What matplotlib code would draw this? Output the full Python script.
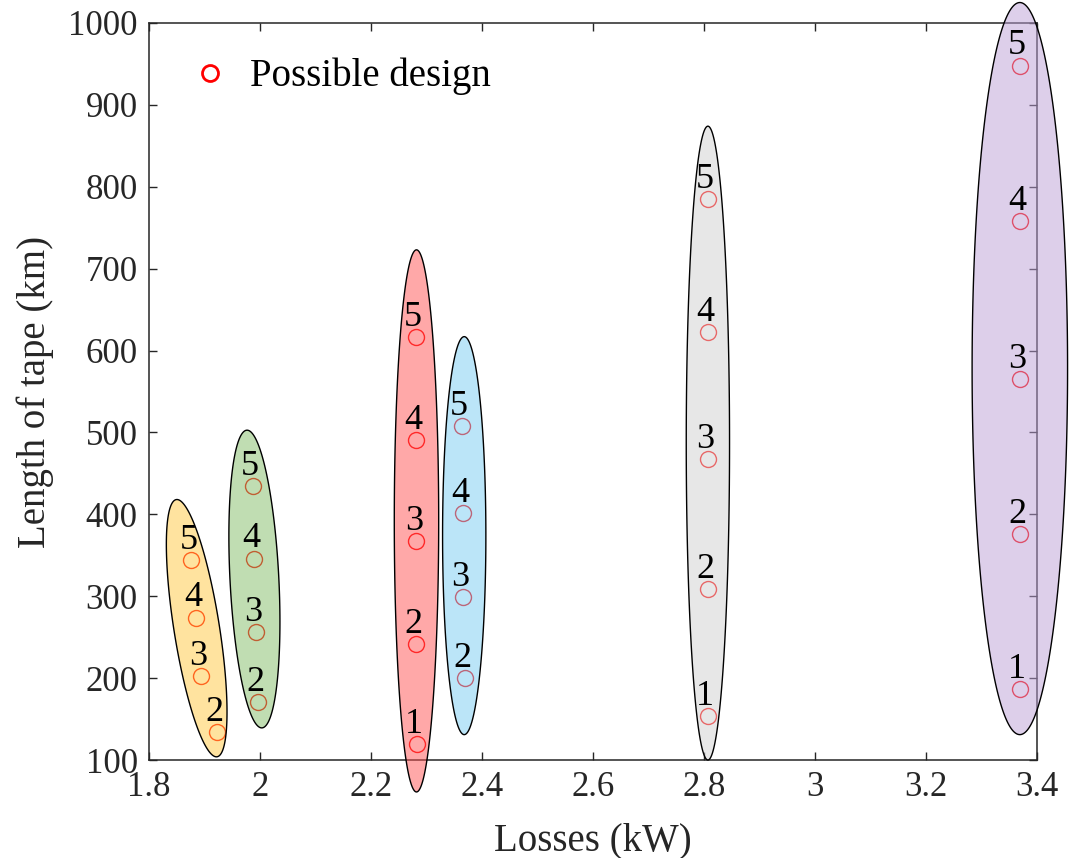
import numpy as np
import matplotlib
matplotlib.use('Agg')
import matplotlib.pyplot as plt
from matplotlib.ticker import FormatStrFormatter

plt.rcParams['font.family'] = ['Liberation Serif', 'DejaVu Serif']

# design groups: losses (kW), tape length (km), design index
yellow_x = [1.876, 1.885, 1.894, 1.923]
yellow_y = [344, 274, 203, 134]
yellow_n = [5, 4, 3, 2]

green_x = [1.987, 1.989, 1.993, 1.996]
green_y = [435, 346, 256, 171]
green_n = [5, 4, 3, 2]

red_x = [2.281, 2.281, 2.282, 2.282, 2.283]
red_y = [617, 491, 367, 242, 120]
red_n = [5, 4, 3, 2, 1]

blue_x = [2.364, 2.366, 2.366, 2.369]
blue_y = [508, 402, 299, 200]
blue_n = [5, 4, 3, 2]

gray_x = [2.807, 2.807, 2.807, 2.807, 2.807]
gray_y = [785, 623, 467, 309, 154]
gray_n = [5, 4, 3, 2, 1]

purple_x = [3.369, 3.369, 3.369, 3.369, 3.369]
purple_y = [948, 758, 565, 376, 187]
purple_n = [5, 4, 3, 2, 1]

xticks = [1.8, 2, 2.2, 2.4, 2.6, 2.8, 3, 3.2, 3.4]
yticks = [100, 200, 300, 400, 500, 600, 700, 800, 900, 1000]

groups = [
    (yellow_x, yellow_y, yellow_n),
    (green_x, green_y, green_n),
    (red_x, red_y, red_n),
    (blue_x, blue_y, blue_n),
    (gray_x, gray_y, gray_n),
    (purple_x, purple_y, purple_n),
]

# enclosing ellipses: centre (kW, km), semi-major (km), semi-minor (kW), tilt (deg), colour
ellipses = [
    (1.886, 261, 159, 0.041, 9.0, (1.0, 0.79, 0.25)),
    (1.990, 321, 182, 0.044, 2.9, (0.51, 0.74, 0.40)),
    (2.282, 392, 331, 0.040, 0.0, (1.0, 0.32, 0.32)),
    (2.368, 374, 243, 0.039, 0.0, (0.47, 0.80, 0.95)),
    (2.807, 487, 387, 0.039, 0.0, (0.82, 0.82, 0.82)),
    (3.369, 578, 447, 0.086, 0.0, (0.74, 0.63, 0.84)),
]

fig = plt.figure(figsize=(10.77, 8.58), dpi=100)
ax = fig.add_axes([0.1383, 0.1142, 0.8246, 0.859])
ax.set_xlim(1.8, 3.4)
ax.set_ylim(100, 1000)

dark = '#262626'

for i, (gx, gy, gn) in enumerate(groups):
    ax.plot(gx, gy, 'o', mfc='none', mec='red', ms=11.5, mew=1.0,
            label='Possible design' if i == 0 else None, zorder=2)
    for x, y, n in zip(gx, gy, gn):
        ax.annotate(str(n), (x, y), xytext=(-2, 8), textcoords='offset points',
                    ha='center', va='baseline', fontsize=26, color='black', zorder=5,
                    annotation_clip=False)

# ellipses built in screen proportions, then mapped back to data units
p0 = ax.transData.transform((0, 0))
sx = ax.transData.transform((1, 0))[0] - p0[0]
sy = ax.transData.transform((0, 1))[1] - p0[1]
t = np.linspace(0, 2 * np.pi, 300)
for cx, cy, a_km, b_kw, tilt, col in ellipses:
    a = a_km * sy
    b = b_kw * sx
    th = np.radians(tilt)
    dx = -a * np.cos(t) * np.sin(th) + b * np.sin(t) * np.cos(th)
    dy = a * np.cos(t) * np.cos(th) + b * np.sin(t) * np.sin(th)
    ax.fill(cx + dx / sx, cy + dy / sy, facecolor=(*col, 0.5), edgecolor='black',
            linewidth=1.0, clip_on=False, zorder=3)

ax.set_xticks(xticks)
ax.set_yticks(yticks)
ax.xaxis.set_major_formatter(FormatStrFormatter('%g'))
ax.tick_params(direction='in', length=6, width=1.0, top=True, right=True,
               labelsize=25, colors=dark, pad=8)
for sp in ax.spines.values():
    sp.set_color(dark)
    sp.set_linewidth(1.1)

ax.set_xlabel('Losses (kW)', fontsize=28, color=dark, labelpad=13)
ax.set_ylabel('Length of tape (km)', fontsize=28, color=dark, labelpad=10)

leg = ax.legend(loc='upper left', frameon=False, fontsize=28, bbox_to_anchor=(-0.015, 1.0),
                handletextpad=0.05, handlelength=2.0)
for h in leg.legend_handles:
    h.set_markeredgewidth(2.0)

fig.savefig('out.png', dpi=100)
